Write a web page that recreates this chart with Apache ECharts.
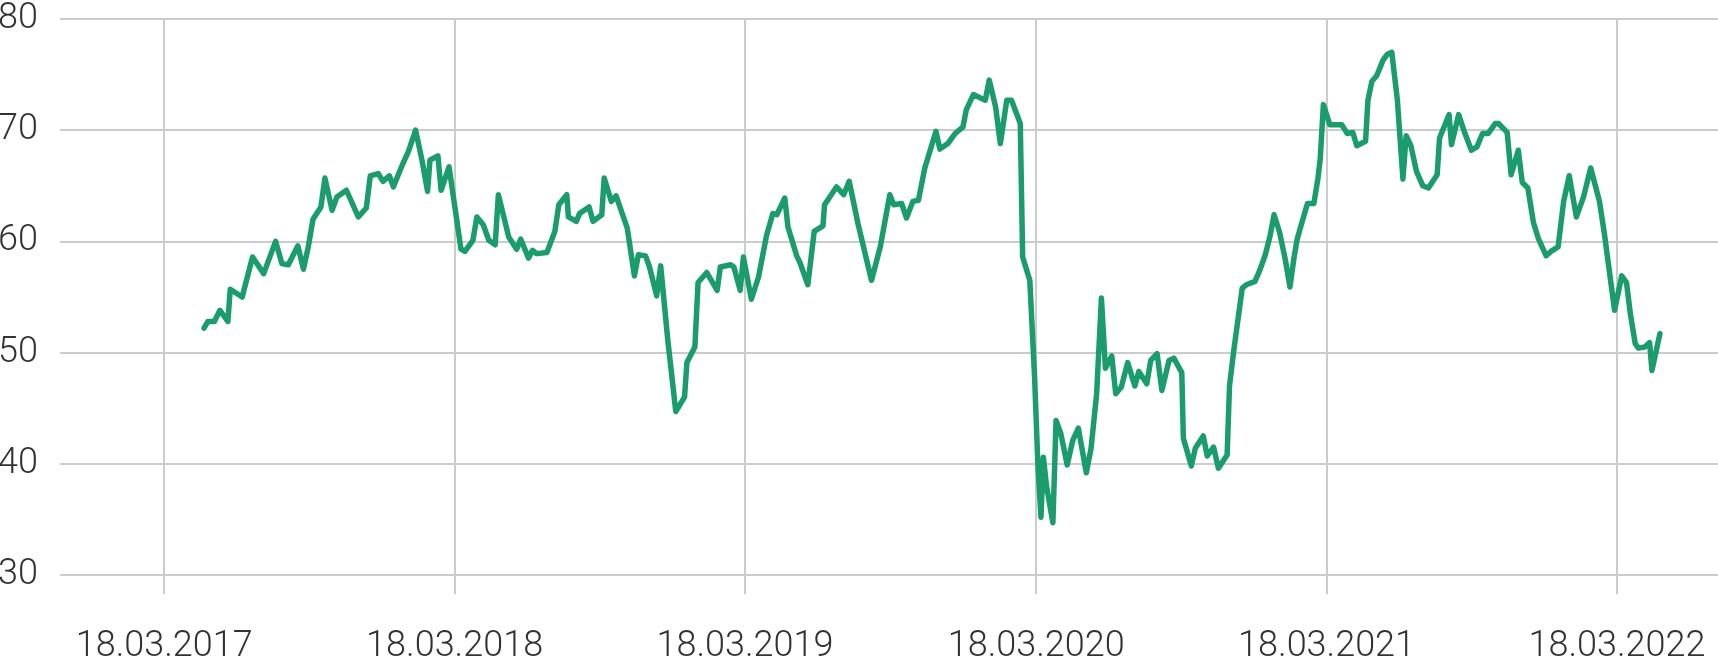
<!DOCTYPE html>
<html><head><meta charset="utf-8">
<script src="https://cdn.jsdelivr.net/npm/echarts@6/dist/echarts.min.js"></script>
<style>html,body{margin:0;padding:0;background:#fff}#c{width:1718px;height:658px}</style>
</head><body><div id="c"></div>
<script>
// Day offsets from 18.03.2017 of each plotted point
const baseDate = '2017-03-18';
const dayOffsets = [
50,55,63,70,80,83,98,111,125,140,148,156,168,175,181,187,197,202,211,217,
229,244,254,259,269,275,283,288,300,307,316,324,331,334,344,348,358,373,378,388,
393,401,408,416,420,433,443,448,458,463,468,481,491,496,506,508,518,522,534,539,
550,553,562,568,582,591,596,605,610,619,624,633,643,654,657,667,671,682,695,699,
712,716,724,728,738,747,757,765,770,780,784,795,799,809,817,828,830,845,854,861,
872,889,900,912,917,927,933,941,948,956,970,975,985,994,1004,1008,1017,1032,1037,1045,
1051,1059,1065,1076,1079,1088,1094,1098,1102,1105,1109,1117,1121,1127,1135,1142,1149,1159,1165,1172,
1178,1183,1191,1196,1203,1211,1220,1225,1235,1240,1248,1254,1263,1269,1279,1281,1291,1296,1306,1311,
1319,1325,1336,1339,1344,1355,1360,1371,1377,1384,1390,1395,1402,1409,1415,1420,1424,1430,1437,1445,
1450,1453,1457,1465,1480,1487,1494,1499,1510,1513,1518,1524,1532,1537,1543,1550,1557,1561,1567,1574,
1582,1589,1600,1603,1615,1618,1627,1635,1643,1650,1657,1664,1673,1677,1688,1693,1702,1707,1714,1721,
1727,1737,1743,1752,1759,1766,1775,1784,1793,1804,1810,1823,1832,1838,1843,1849,1853,1861,1867,1870,
1880
];
const values = [
52.2,52.8,52.8,53.8,52.8,55.7,55.0,58.6,57.1,60.0,58.0,57.9,59.6,57.5,59.5,62.0,63.1,65.7,62.8,64.0,
64.6,62.2,63.0,65.9,66.1,65.4,65.9,64.9,67.0,68.1,70.0,67.3,64.5,67.3,67.7,64.6,66.7,59.3,59.1,60.1,
62.2,61.5,60.1,59.7,64.2,60.4,59.3,60.2,58.5,59.2,58.9,59.0,60.9,63.3,64.2,62.2,61.8,62.5,63.1,61.8,
62.4,65.7,63.6,64.1,61.2,56.9,58.8,58.7,57.7,55.1,57.8,51.1,44.7,46.0,49.1,50.5,56.3,57.2,55.6,57.7,
57.9,57.7,55.6,58.6,54.8,56.8,60.5,62.5,62.4,63.9,61.3,58.7,58.1,56.1,60.9,61.4,63.3,64.9,64.2,65.4,
61.6,56.5,59.5,64.2,63.3,63.4,62.1,63.6,63.7,66.6,69.9,68.3,68.8,69.7,70.3,71.8,73.2,72.7,74.5,72.1,
68.8,72.7,72.7,70.6,58.6,56.5,47.8,40.2,35.2,40.6,38.0,34.7,43.9,42.7,39.9,42.1,43.2,39.2,41.4,46.3,
54.9,48.6,49.7,46.3,46.9,49.1,47.0,48.3,47.2,49.3,49.9,46.6,49.3,49.5,48.2,42.3,39.8,41.4,42.5,40.7,
41.5,39.6,40.8,47.0,50.0,55.8,56.1,56.4,57.4,58.8,60.5,62.4,60.8,58.4,55.9,58.5,60.2,61.7,63.4,63.4,
65.6,67.4,72.3,70.5,70.5,69.7,69.8,68.6,69.0,72.7,74.4,74.9,76.3,76.8,77.0,72.7,65.6,69.5,68.6,66.3,
65.0,64.8,66.0,69.3,71.4,68.7,71.4,69.7,68.2,68.5,69.7,69.7,70.6,70.6,69.8,66.0,68.2,65.3,64.8,61.7,
60.3,58.7,59.1,59.5,63.6,65.9,62.2,64.0,66.6,63.6,60.8,53.8,56.9,56.3,53.4,50.8,50.4,50.5,50.9,48.4,
51.7
];
const tickDates = ['2017-03-18','2018-03-18','2019-03-18','2020-03-18','2021-03-18','2022-03-18'];
const xRangeDays = [-131, 1953];
const yRange = [30, 80];
const yStep = 10;

const DAY = 86400000;
const t0 = Date.parse(baseDate + 'T00:00:00Z');
const data = dayOffsets.map((d, i) => [t0 + d * DAY, values[i]]);
const tickValues = tickDates.map(s => Date.parse(s + 'T00:00:00Z'));
const pad = n => (n < 10 ? '0' : '') + n;
const fmt = v => { const d = new Date(v); return pad(d.getUTCDate()) + '.' + pad(d.getUTCMonth() + 1) + '.' + d.getUTCFullYear(); };

const GRID = '#cccccc';
const TEXT = '#333333';
const FONT = 'Roboto';

const chart = echarts.init(document.getElementById('c'), null, { renderer: 'canvas' });
chart.setOption({
  animation: false,
  backgroundColor: '#ffffff',
  grid: { left: 60, right: 0, top: 19, bottom: 83, containLabel: false, outerBoundsMode: 'none' },
  xAxis: {
    type: 'value',
    min: t0 + xRangeDays[0] * DAY,
    max: t0 + xRangeDays[1] * DAY,
    axisLine: { show: false },
    axisTick: { show: true, length: 19, customValues: tickValues, lineStyle: { color: GRID, width: 2 } },
    axisLabel: { customValues: tickValues, formatter: fmt, margin: 54, fontSize: 36, fontFamily: FONT, fontWeight: 300, color: TEXT },
    splitLine: { show: true, lineStyle: { color: GRID, width: 2 } }
  },
  yAxis: {
    type: 'value',
    min: yRange[0], max: yRange[1], interval: yStep,
    axisLine: { show: false },
    axisTick: { show: false },
    axisLabel: { margin: 22, fontSize: 36, fontFamily: FONT, fontWeight: 300, color: TEXT },
    splitLine: { show: true, lineStyle: { color: GRID, width: 2 } }
  },
  series: [{
    type: 'line',
    data: data,
    showSymbol: false,
    symbol: 'none',
    lineStyle: { color: '#1b9c6c', width: 5.5, join: 'round', cap: 'round' },
    itemStyle: { color: '#1b9c6c' }
  }]
});
</script></body></html>
